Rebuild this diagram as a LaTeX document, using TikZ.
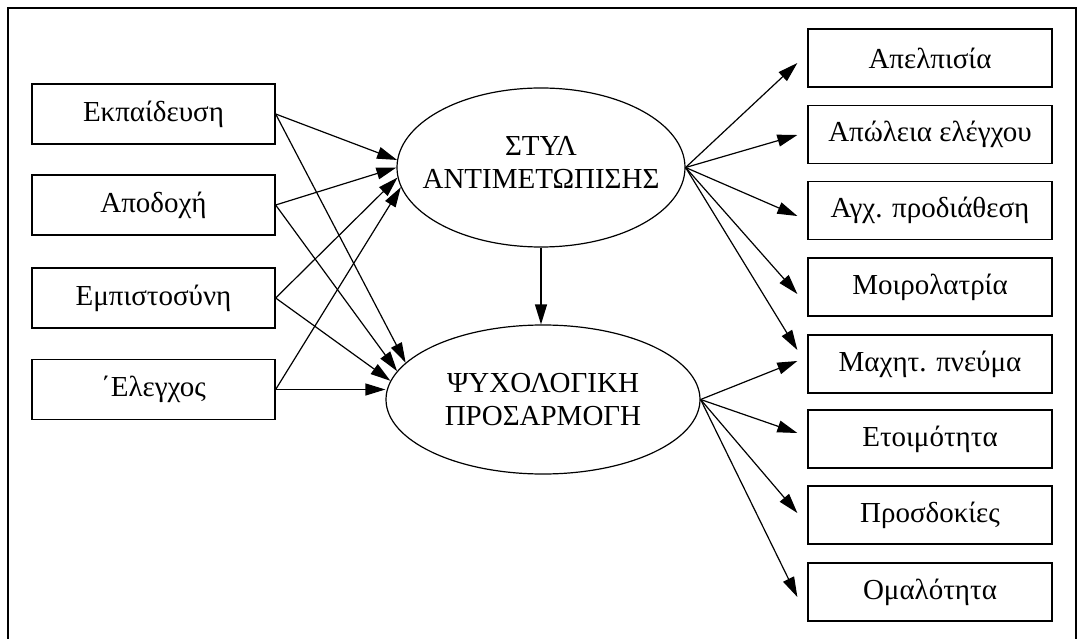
\documentclass[tikz,border=0pt]{standalone}
\usepackage{fontspec}
\setmainfont{Liberation Serif}
\usetikzlibrary{arrows.meta,calc,shapes.geometric}
\begin{document}
\begin{tikzpicture}[x=1pt,y=-1pt,
  font=\fontsize{29}{33}\selectfont,
  lbox/.style={draw,line width=1.3pt,rectangle,minimum width=243pt,minimum height=60pt,inner sep=0pt},
  rbox/.style={draw,line width=1.3pt,rectangle,minimum width=244pt,minimum height=58pt,inner sep=0pt},
  oval/.style={draw,line width=1.2pt,ellipse,inner sep=0pt},
  otext/.style={align=center,inner sep=0pt},
  arr/.style={line width=1.2pt,-{Triangle[length=20pt,width=12pt]}}]
\useasboundingbox (0,0) rectangle (1082,639);
% frame
\draw[line width=1.4pt] (8,660) -- (8,8) -- (1076,8) -- (1076,660);
% left boxes
\node[lbox] (b1) at (153.5,114) {Εκπαίδευση};
\node[lbox] (b2) at (153.5,205) {Αποδοχή};
\node[lbox] (b3) at (153.5,298) {Εμπιστοσύνη};
\node[lbox] (b4) at (153.5,389.5) {΄Ελεγχος};
% ellipses
\node[oval,minimum width=288pt,minimum height=159pt] (e1) at (541,167.5) {};
\node[otext] (t1) at (541,162) {ΣΤΥΛ\\ΑΝΤΙΜΕΤΩΠΙΣΗΣ};
\node[oval,minimum width=314pt,minimum height=149pt] (e2) at (543,399.5) {};
\node[otext] (t2) at (543,399.5) {ΨΥΧΟΛΟΓΙΚΗ\\ΠΡΟΣΑΡΜΟΓΗ};
% right boxes
\node[rbox] (r1) at (930,58) {Απελπισία};
\node[rbox] (r2) at (930,134.5) {Απώλεια ελέγχου};
\node[rbox] (r3) at (930,210.5) {Αγχ. προδιάθεση};
\node[rbox] (r4) at (930,287) {Μοιρολατρία};
\node[rbox] (r5) at (930,364) {Μαχητ. πνεύμα};
\node[rbox] (r6) at (930,439) {Ετοιμότητα};
\node[rbox] (r7) at (930,515) {Προσδοκίες};
\node[rbox] (r8) at (930,592) {Ομαλότητα};
% left arrows into e1
\draw[arr] (b1.east) -- (e1.177.8);
\draw[arr] (b2.east) -- (e1.180.6);
\draw[arr] (b3.east) -- (e1.184.3);
\draw[arr] (b4.east) -- (e1.188.9);
% left arrows into e2
\draw[arr] (b1.east) -- (e2.165.3);
\draw[arr] (b2.east) -- (e2.169.5);
\draw[arr] (b3.east) -- (e2.173.5);
\draw[arr] (b4.east) -- (b4.east -| e2.west);
% e1 to e2
\draw[arr] (e1.south) -- (e2.north -| e1.south);
% right arrows from e1
\draw[arr] (e1.east) -- ($(r1.west)+(-10,5)$);
\draw[arr] (e1.east) -- ($(r2.west)+(-10,0.5)$);
\draw[arr] (e1.east) -- ($(r3.west)+(-10,5.5)$);
\draw[arr] (e1.east) -- ($(r4.west)+(-10,7)$);
\draw[arr] (e1.east) -- ($(r5.west)+(-10,-14)$);
% right arrows from e2
\draw[arr] (e2.east) -- ($(r5.west)+(-10,-3)$);
\draw[arr] (e2.east) -- ($(r6.west)+(-10,-6)$);
\draw[arr] (e2.east) -- ($(r7.west)+(-10,-2)$);
\draw[arr] (e2.east) -- ($(r8.west)+(-10,5)$);
\end{tikzpicture}
\end{document}
